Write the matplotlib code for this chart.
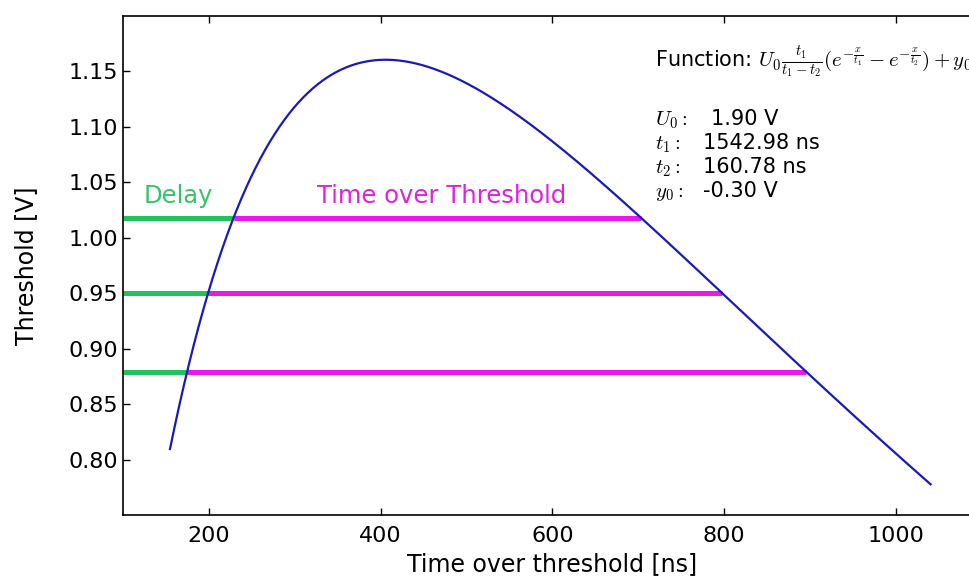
import numpy as np
import matplotlib
matplotlib.use("Agg")
import matplotlib.pyplot as plt

plt.rcParams['mathtext.fontset'] = 'cm'
plt.rcParams['font.family'] = 'DejaVu Sans'

# fit parameters of the pulse shape
U0 = 1.90      # V
t1 = 1542.98   # ns
t2 = 160.78    # ns
y0 = -0.30     # V
t_start, t_stop = 155, 1040

# discriminator thresholds [V]
thresholds = [1.018, 0.950, 0.879]

x_ticks = [200, 400, 600, 800, 1000]
y_ticks = [0.80, 0.85, 0.90, 0.95, 1.00, 1.05, 1.10, 1.15]

GREEN = '#1fc25c'
MAGENTA = '#ea18ea'
BLUE = '#1a1ab8'


def pulse(x):
    return U0 * t1 / (t1 - t2) * (np.exp(-x / t1) - np.exp(-x / t2)) + y0


x = np.linspace(t_start, t_stop, 800)
y = pulse(x)
i_peak = np.argmax(y)

W, H = 970, 577
fig = plt.figure(figsize=(W / 100, H / 100), dpi=100)
ax = fig.add_axes([0.1265, 0.1075, 0.886, 0.8648])

ax.plot(x, y, color=BLUE, lw=1.6, zorder=3)

x_left = 100
for th in thresholds:
    # rising and falling crossing of the threshold
    x_rise = np.interp(th, y[:i_peak + 1], x[:i_peak + 1])
    x_fall = np.interp(th, y[i_peak:][::-1], x[i_peak:][::-1])
    ax.plot([x_left, x_rise], [th, th], color=GREEN, lw=3.6, solid_capstyle='butt', zorder=2)
    ax.plot([x_rise, x_fall], [th, th], color=MAGENTA, lw=3.6, solid_capstyle='butt', zorder=2)

ax.text(124, 1.031, 'Delay', color='#34c46c', fontsize=17.5)
ax.text(326, 1.031, 'Time over Threshold', color='#e020e0', fontsize=17.5)


def ftext(px, py, s, **kw):
    fig.text(px / W, 1 - py / H, s, fontsize=15, va='baseline', **kw)


ftext(655, 67, r'Function: $U_0\frac{t_1}{t_1-t_2}(e^{-\frac{x}{t_1}}-e^{-\frac{x}{t_2}})+y_0$')
rows = [(r'$U_0:$', '%.2f V' % U0, 711),
        (r'$t_1:$', '%.2f ns' % t1, 703),
        (r'$t_2:$', '%.2f ns' % t2, 703),
        (r'$y_0:$', '%.2f V' % y0, 703)]
for k, (name, val, vx) in enumerate(rows):
    py = 125 + 24 * k
    ftext(655, py, name)
    ftext(vx, py, val)

ax.set_xlim(100, 1100)
ax.set_ylim(0.75, 1.20)
ax.set_xticks(x_ticks)
ax.set_yticks(y_ticks)
ax.set_yticklabels(['%.2f' % v for v in y_ticks])
ax.tick_params(direction='in', length=5, width=1, top=True, right=False, labelsize=16)
ax.tick_params(axis='x', pad=8)
ax.tick_params(axis='y', pad=3.5)
ax.spines['right'].set_visible(False)
for s in ax.spines.values():
    s.set_linewidth(1.2)

ax.set_xlabel('Time over threshold [ns]', fontsize=17, labelpad=4)
ax.set_ylabel('Threshold [V]', fontsize=17, labelpad=22)

fig.savefig('out.png', dpi=100)
